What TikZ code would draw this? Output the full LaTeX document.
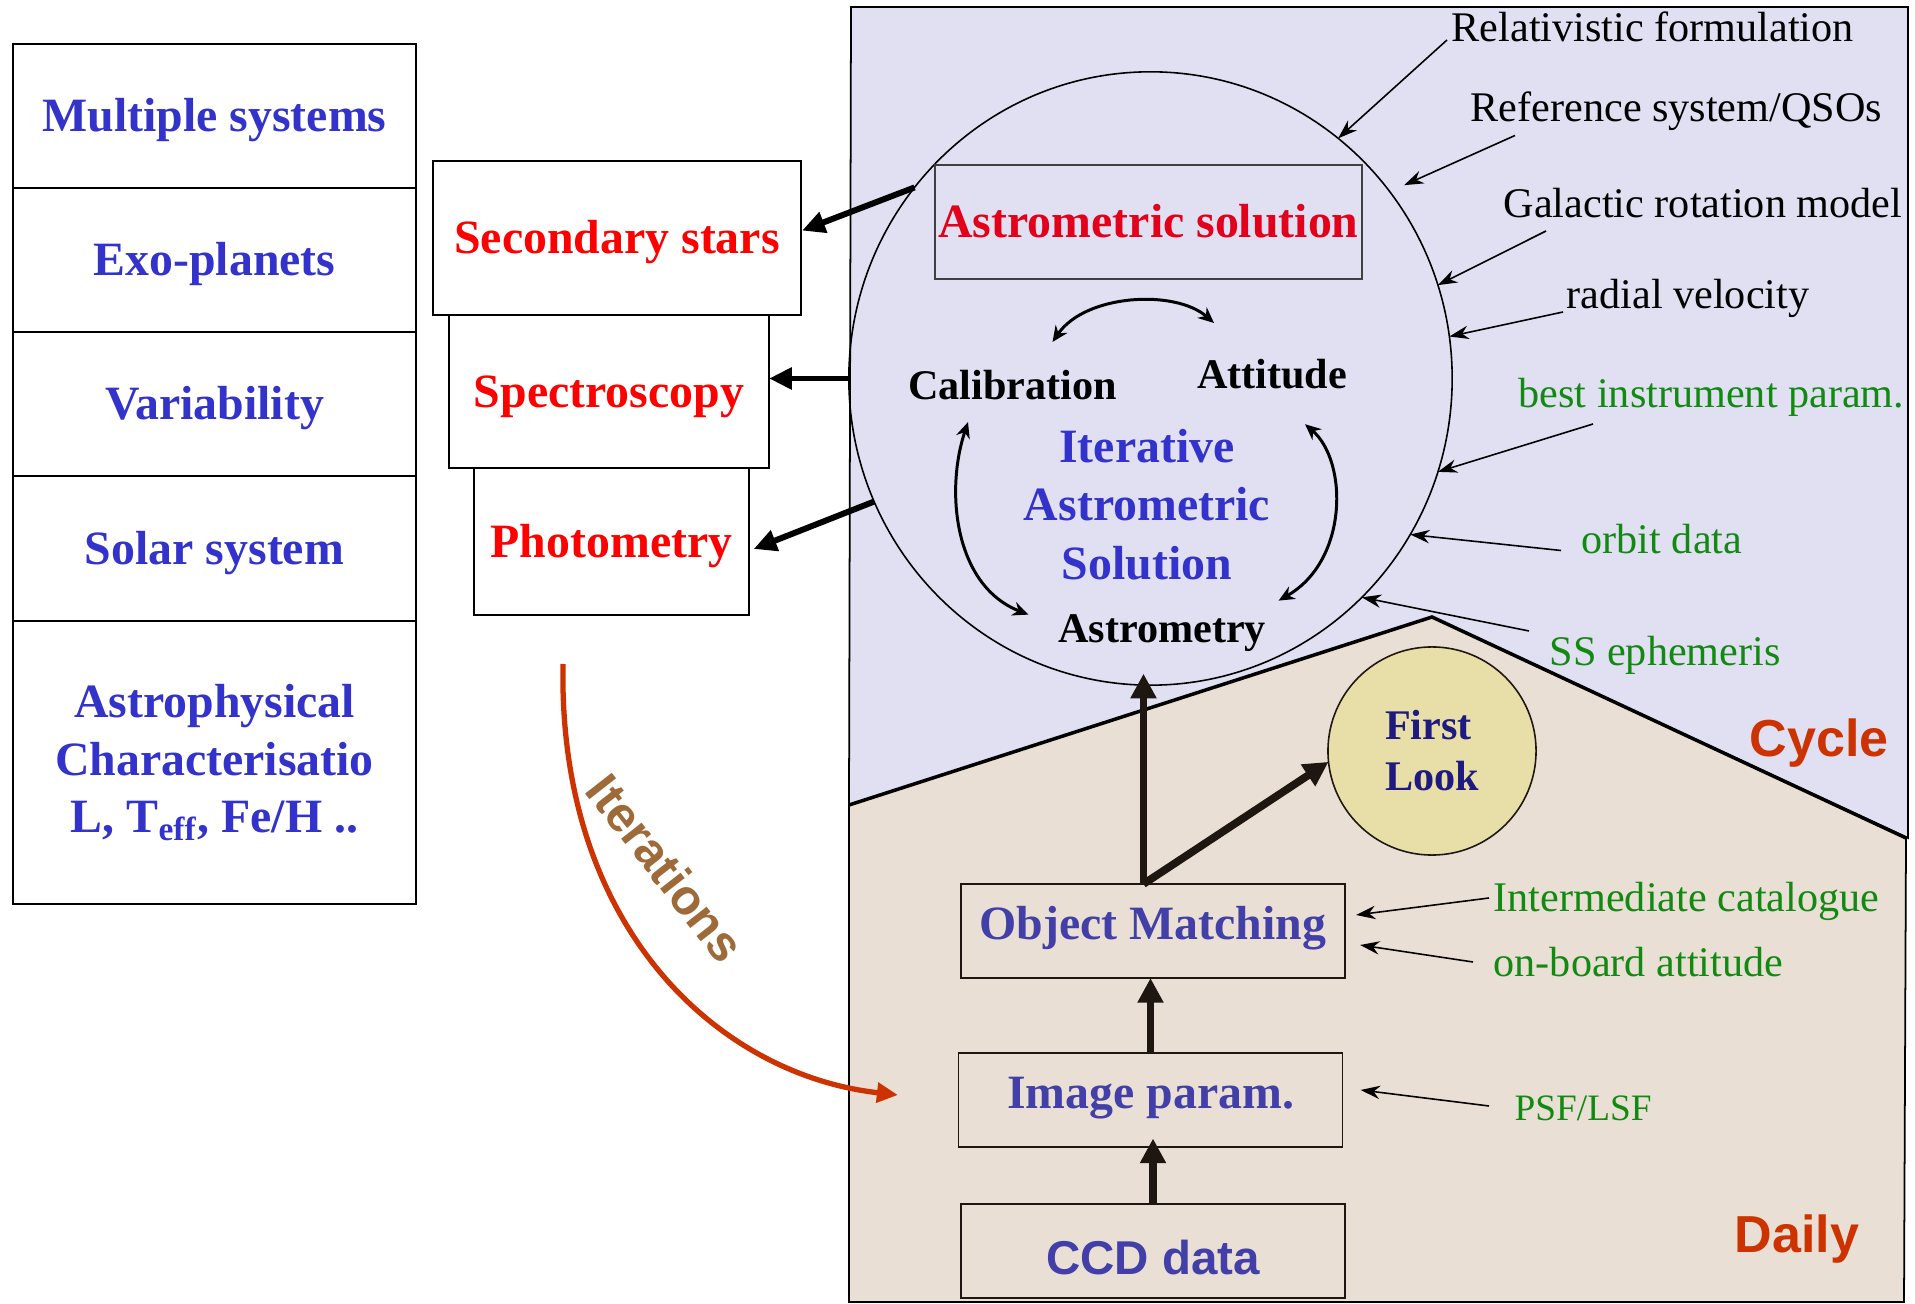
\documentclass[tikz,border=0pt]{standalone}
\usepackage{fontspec}
\setmainfont{Liberation Serif}
\setsansfont{Liberation Sans}
\usetikzlibrary{arrows.meta, calc, shapes.geometric}
\definecolor{sciblue}{RGB}{51,51,204}
\definecolor{flowblue}{RGB}{66,64,168}
\definecolor{lookblue}{RGB}{30,26,128}
\definecolor{outred}{RGB}{255,0,0}
\definecolor{solred}{RGB}{226,0,26}
\definecolor{inputgreen}{RGB}{18,138,18}
\definecolor{rust}{RGB}{204,51,0}
\definecolor{bronze}{RGB}{158,106,58}
\definecolor{cyclebg}{RGB}{224,224,242}
\definecolor{dailybg}{RGB}{233,223,212}
\definecolor{lookfill}{RGB}{232,222,168}
\definecolor{darkink}{RGB}{30,22,16}
\newcommand{\boldbig}{\fontsize{13.6}{16.4}\selectfont\bfseries}
\newcommand{\boldmid}{\fontsize{12}{14.5}\selectfont\bfseries}
\newcommand{\plainlab}{\fontsize{12}{14.5}\selectfont}
\newcommand{\sansbig}{\fontsize{14.8}{17}\selectfont\sffamily\bfseries}

\begin{document}
\begin{tikzpicture}[x=0.01cm, y=-0.01cm,
    caps/.style={text height=9pt, text depth=0pt},
    colbox/.style={draw, line width=0.6pt, inner sep=2pt, outer sep=0pt, minimum width=4.03cm, font=\boldbig, text=sciblue},
    outbox/.style={draw, line width=0.6pt, inner sep=2pt, outer sep=0pt, fill=white, font=\boldbig, text=outred, caps},
    flowbox/.style={draw=darkink, line width=0.45pt, inner sep=2pt, outer sep=0pt, minimum width=3.84cm, minimum height=0.94cm, font=\boldbig, text=flowblue},
    inlabel/.style={inner sep=0pt, anchor=base west, font=\plainlab},
    feed/.style={-{Stealth[length=5.5pt,width=3.8pt]}, line width=0.45pt},
    roundtrip/.style={{Stealth[length=4.5pt,width=4pt]}-{Stealth[length=4.5pt,width=4pt]}, line width=0.85pt},
    fat/.style={-{Triangle[length=6.5pt,width=6pt]}, line width=1.7pt},
    upfat/.style={-{Triangle[length=7pt,width=7pt]}, line width=2.2pt, draw=darkink}]
  \useasboundingbox (0,0) rectangle (1915,1304);

  %science cases
  \node[colbox, caps, minimum height=1.44cm] (ms) at (214.5,116) {Multiple systems};
  \node[colbox, caps, minimum height=1.44cm] (ep) at (214.5,260) {Exo-planets};
  \node[colbox, caps, minimum height=1.44cm] (va) at (214.5,404) {Variability};
  \node[colbox, caps, minimum height=1.45cm] (ss) at (214.5,548.5) {Solar system};
  \node[colbox, minimum height=2.83cm, align=center] (ap) at (214.5,762.5)
    {Astrophysical\\Characterisatio\\L, T\textsubscript{eff}, Fe/H ..};

  \node[outbox, minimum width=3.68cm, minimum height=1.54cm] (sec) at (617,238) {Secondary stars};
  \node[outbox, minimum width=3.2cm, minimum height=1.53cm] (spec) at (609,391.5) {Spectroscopy};
  \node[outbox, minimum width=2.75cm, minimum height=1.47cm] (phot) at (611.5,541.5) {Photometry};

  %cycle and daily
  \filldraw[fill=cyclebg, line width=0.5pt] (849,805) -- (851,7) -- (1908,7) -- (1908,838) -- (1432,617) -- cycle;
  \filldraw[fill=dailybg, line width=0.5pt] (849,805) -- (1432,617) -- (1906,838) -- (1904,1302) -- (849,1302) -- cycle;
  \draw[line width=1pt] (849,805) -- (1432,617) -- (1906,838);

  \node[draw, ellipse, line width=0.45pt, inner sep=0pt, outer sep=0pt,
    minimum width=6.03cm, minimum height=6.13cm] (core) at (1150.5,378.5) {};
  \node[draw=black!75, line width=0.6pt, inner sep=1pt, outer sep=0pt, minimum width=4.25cm,
    minimum height=1.14cm, font=\boldbig, text=solred, caps] (as) at (1148.5,222) {Astrometric solution};

  \node[inner sep=0pt, anchor=base, font=\boldmid] (cal) at (1012.5,400) {Calibration};
  \node[inner sep=0pt, anchor=base, font=\boldmid] (att) at (1272,389) {Attitude};
  \node[inner sep=0pt, anchor=base, font=\boldmid] (astr) at (1162,643) {Astrometry};
  \node[inner sep=0pt, align=center, font=\fontsize{13.6}{16.6}\selectfont\bfseries, text=sciblue] (ias)
    at (1147,504.7) {Iterative\\Astrometric\\Solution};

  \draw[roundtrip] ($(cal.north)+(40,-28)$) .. controls +(33,-48) and +(-39,-34) .. ($(att.north)+(-58,-36)$);
  \draw[roundtrip] ($(cal.south)+(-44.5,21)$) .. controls +(-23,69) and +(-74,-29) .. ($(astr.west)+(-29,-19)$);
  \draw[roundtrip] ($(att.south)+(33,34)$) .. controls +(43,37) and +(70,-40) .. ($(astr.east)+(12,-33)$);

  \draw[fat] (core.141) -- ($(sec.east)+(1,-7.4)$);
  \draw[fat] (core.180) -- (core.180 -| spec.east);
  \draw[fat] (core.204) -- ($(phot.east)+(4.6,7.5)$);

  %inputs
  \node[inlabel] (rel) at (1451,42) {Relativistic formulation};
  \node[inlabel] (ref) at (1470,122) {Reference system/QSOs};
  \node[inlabel] (gal) at (1503,218) {Galactic rotation model};
  \node[inlabel] (rad) at (1566,309) {radial velocity};
  \node[inlabel, text=inputgreen] (best) at (1518,408) {best instrument param.};
  \node[inlabel, text=inputgreen] (orb) at (1581,554) {orbit data};
  \node[inlabel, text=inputgreen] (eph) at (1549,666) {SS ephemeris};

  \draw[feed] ($(rel.base west)+(-4,-2)$) -- (core.52);
  \draw[feed, shorten >=4.5pt] ($(ref.base west)+(45,13.5)$) -- (core.38);
  \draw[feed] ($(gal.base west)+(43,13)$) -- (core.18);
  \draw[feed] ($(rad.base west)+(-3,3)$) -- (core.8);
  \draw[feed] ($(best.base west)+(75,16)$) -- (core.342);
  \draw[feed] ($(orb.base west)+(-20,-3.5)$) -- (core.329);
  \draw[feed] ($(eph.base west)+(-20,-35)$) -- (core.314);

  \node[flowbox, text height=9pt, text depth=4.4pt] (om) at (1153,931) {Object Matching};
  \node[flowbox, text height=9pt, text depth=3.9pt] (ip) at (1150.5,1100) {Image param.};
  \node[flowbox, text height=13.6pt, text depth=0pt, font=\fontsize{13.5}{16}\selectfont\sffamily\bfseries] (ccd)
    at (1153,1251) {CCD data};
  \node[draw=darkink, line width=0.45pt, circle, fill=lookfill, minimum size=2.08cm, inner sep=0pt,
    outer sep=0pt, align=left, font=\boldmid, text=lookblue] (fl) at (1432,751) {First\\Look};

  \node[inlabel, text=inputgreen] (icat) at (1493,912) {Intermediate catalogue};
  \node[inlabel, text=inputgreen] (onb) at (1493,976.5) {on-board attitude};
  \node[inlabel, text=inputgreen, font=\fontsize{10.6}{12}\selectfont] (psf) at (1514,1120) {PSF/LSF};

  \draw[feed] ($(icat.base west)+(-4,-14)$) -- ($(om.east)+(11,-16)$);
  \draw[feed] ($(onb.base west)+(-20,-14.5)$) -- ($(om.east)+(15,14)$);
  \draw[feed] ($(psf.base west)+(-25,-14)$) -- ($(ip.east)+(18,-10)$);

  \coordinate (omtop) at ($(om.north)+(-9.5,0)$);
  \draw[upfat] (ccd.north) -- ($(ccd.north |- ip.south)+(0,-8.5)$);
  \draw[upfat] (ip.north) -- (ip.north |- om.south);
  \draw[upfat] (omtop) -- ($(omtop |- core.south)+(0,-11.5)$);
  \draw[upfat] (omtop) -- (fl.186);

  \node[inner sep=0pt, anchor=base west, font=\sansbig, text=rust] (cyc) at (1749,757) {Cycle};
  \node[inner sep=0pt, anchor=base west, font=\sansbig, text=rust] (day) at (1734,1252) {Daily};

  %iterations
  \coordinate (itfrom) at (563,664);
  \coordinate (itto) at (898,1095);
  \draw[-{Triangle[length=6pt,width=5.5pt]}, line width=1.5pt, draw=rust]
    (itfrom) .. controls (558,930) and (720,1075) .. (itto);
  \node[rotate=-52, font=\fontsize{14}{16}\selectfont\sffamily\bfseries, text=bronze] (iter) at (666,868) {Iterations};
\end{tikzpicture}
\end{document}
